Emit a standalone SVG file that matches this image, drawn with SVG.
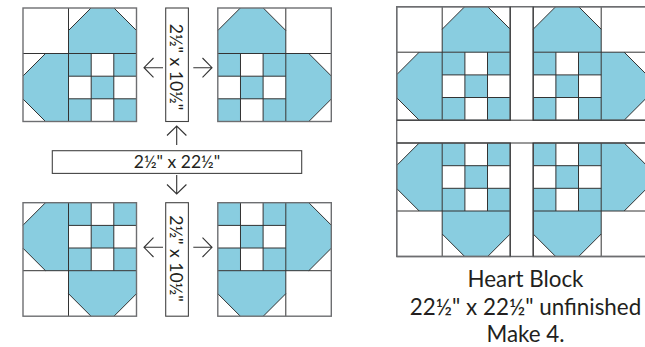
<svg xmlns="http://www.w3.org/2000/svg" width="645" height="347" viewBox="0 0 645 347">
<style>
.b{fill:#89cde0}
.w{fill:#fff}
.l{fill:none;stroke:#333;stroke-width:1}
.o{fill:none;stroke:#6d6e71;stroke-width:1.4}
.s{fill:#fff;stroke:#444;stroke-width:1.1}
.a{fill:none;stroke:#333;stroke-width:1.1}
text{font-family:Lato,"Open Sans",sans-serif;fill:#231f20}
.t{font-size:17.5px;text-anchor:middle}
.c{font-size:22.4px;text-anchor:middle}
</style>
<defs>
<g id="heart">
<rect class="w" width="113.5" height="113.5"/>
<path class="b" d="M45.5 22.5L68 0H91L113.5 22.5V45.5H45.5Z"/>
<path class="b" d="M0 68L22.5 45.5H45.5V113.5H22.5L0 91Z"/>
<path class="b" d="M45.5 45.5h22.7v22.7h-22.7ZM90.8 45.5h22.7v22.7h-22.7ZM68.2 68.2h22.7v22.7h-22.7ZM45.5 90.8h22.7v22.7h-22.7ZM90.8 90.8h22.7v22.7h-22.7Z"/>
<path class="l" d="M45.5 0V113.5M0 45.5H113.5M68.2 45.5V113.5M90.8 45.5V113.5M45.5 68.2H113.5M45.5 90.8H113.5M45.5 22.5L68 0M91 0L113.5 22.5M0 68L22.5 45.5M0 91L22.5 113.5"/>
<rect class="o" width="113.5" height="113.5"/>
</g>
</defs>
<g id="block-top-left"><use href="#heart" transform="translate(23 8)"/></g>
<g id="block-top-right"><use href="#heart" transform="translate(331.3 8) scale(-1 1)"/></g>
<g id="block-bottom-left"><use href="#heart" transform="translate(23 316.2) scale(1 -1)"/></g>
<g id="block-bottom-right"><use href="#heart" transform="translate(331.3 316.2) scale(-1 -1)"/></g>
<g id="strip-top"><rect class="s" x="165.7" y="8" width="22.7" height="113.5"/><text class="t" transform="translate(169.5 67) rotate(90)">2½" x 10½"</text></g>
<g id="strip-bottom"><rect class="s" x="165.7" y="202.7" width="22.7" height="113.5"/><text class="t" transform="translate(169.5 258.5) rotate(90)">2½" x 10½"</text></g>
<g id="strip-middle"><rect class="s" x="52.3" y="150.7" width="249.4" height="22.7"/><text class="t" x="177" y="168">2½" x 22½"</text></g>
<g id="connectors">
<path class="a" d="M163 67.7H144M153.500 58L144 67.700L153.500 77.400"/>
<path class="a" d="M193.300 67.700H212M202.500 58L212 67.700L202.500 77.400"/>
<path class="a" d="M176.700 145V126M167 135.500L176.700 126L186.400 135.500"/>
<path class="a" d="M176.700 175V194M167 184.500L176.700 194L186.400 184.500"/>
<path class="a" d="M163 247.300H144M153.500 237.600L144 247.300L153.500 257"/>
<path class="a" d="M193.300 247.300H212M202.500 237.600L212 247.300L202.500 257"/>
</g>
<g id="quilt">
<rect class="w" x="396.700" y="6.700" width="250" height="250"/>
<use href="#heart" transform="translate(396.700 6.700)"/>
<use href="#heart" transform="translate(646.700 6.700) scale(-1 1)"/>
<use href="#heart" transform="translate(396.700 256.500) scale(1 -1)"/>
<use href="#heart" transform="translate(646.700 256.500) scale(-1 -1)"/>
<path class="o" d="M396.700 6.700H646.700M396.700 256.500H646.700M396.700 6.700V256.500"/>
<path class="l" d="M396.700 120.200H646.700M396.700 143H646.700M510.200 6.700V120.200M533.200 6.700V120.200M510.200 143V256.500M533.200 143V256.500"/>
</g>
<g id="caption">
<text class="c" x="525.500" y="286.500">Heart Block</text>
<text class="c" x="525.500" y="315">22½" x 22½" unfinished</text>
<text class="c" x="525.500" y="342">Make 4.</text>
</g>
</svg>
